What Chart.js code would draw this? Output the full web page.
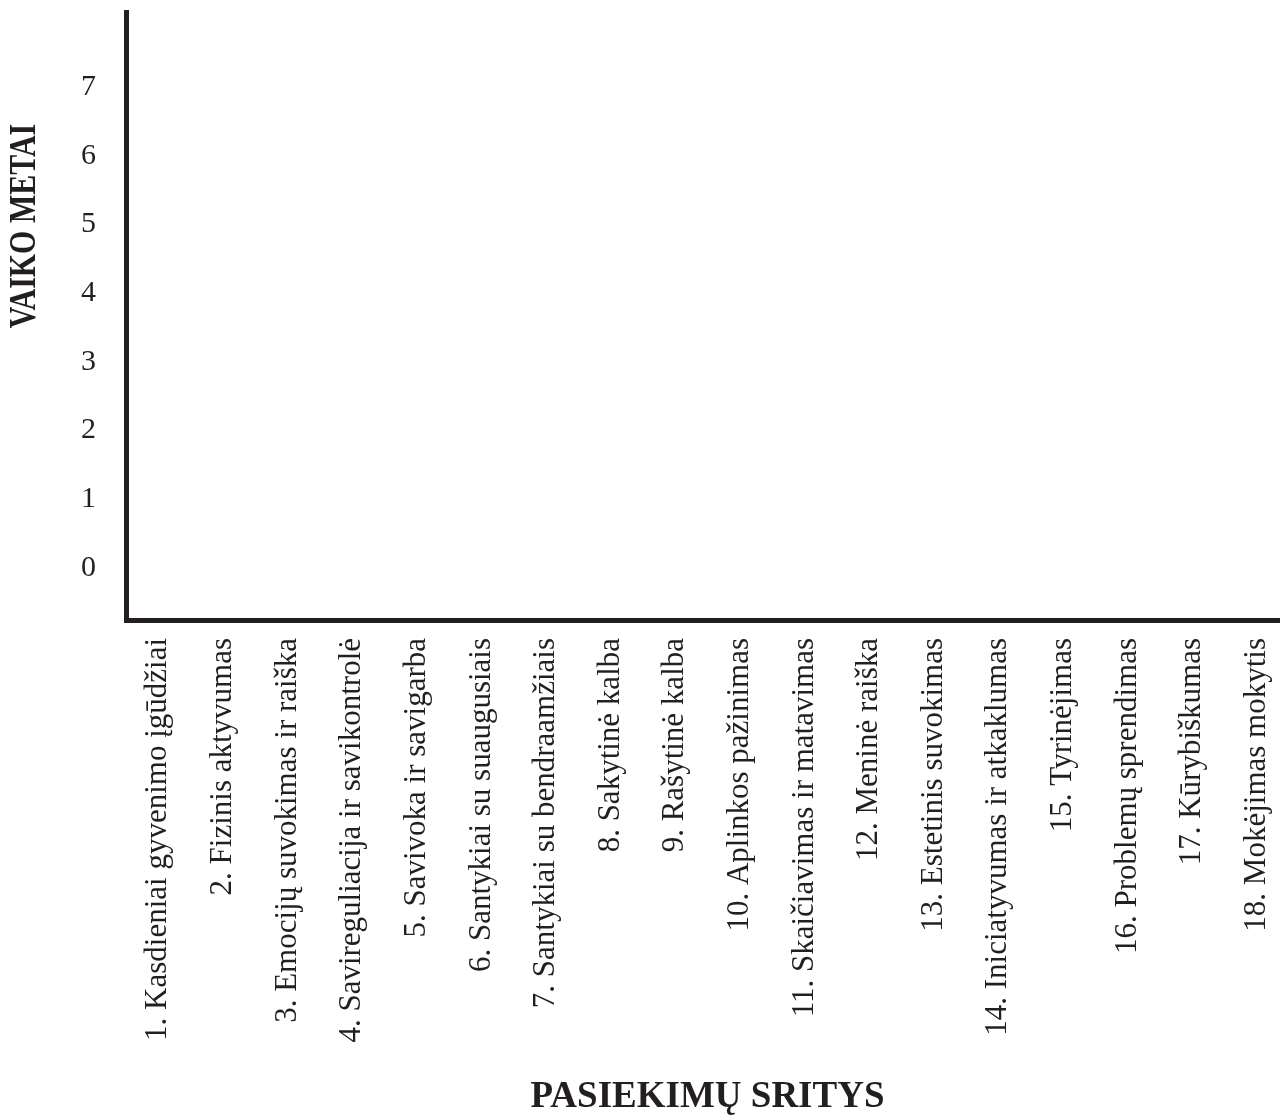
<!DOCTYPE html>
<html>
<head>
<meta charset="utf-8">
<script src="https://cdn.jsdelivr.net/npm/chart.js@4"></script>
<style>
  html, body { margin: 0; padding: 0; background: #fff; overflow: hidden; }
  #wrap { width: 1292px; height: 1120px; }
</style>
</head>
<body>
<div id="wrap"><canvas id="chart" width="1292" height="1120"></canvas></div>
<script>
// categories (pasiekimų sritys)
const categories = [
  "1. Kasdieniai gyvenimo įgūdžiai",
  "2. Fizinis aktyvumas",
  "3. Emocijų suvokimas ir raiška",
  "4. Savireguliacija ir savikontrolė",
  "5. Savivoka ir savigarba",
  "6. Santykiai su suaugusiais",
  "7. Santykiai su bendraamžiais",
  "8. Sakytinė kalba",
  "9. Rašytinė kalba",
  "10. Aplinkos pažinimas",
  "11. Skaičiavimas ir matavimas",
  "12. Meninė raiška",
  "13. Estetinis suvokimas",
  "14. Iniciatyvumas ir atkaklumas",
  "15. Tyrinėjimas",
  "16. Problemų sprendimas",
  "17. Kūrybiškumas",
  "18. Mokėjimas mokytis"
];
// y axis ticks (vaiko metai)
const yTicks = [0, 1, 2, 3, 4, 5, 6, 7];

const ink = "#231f20";
const serif = "'Liberation Serif', 'Times New Roman', serif";

// y title sits higher than the chart area centre and is a bit condensed, so draw it by hand
const yTitle = {
  id: "yTitle",
  afterDraw(chart) {
    const ctx = chart.ctx;
    ctx.save();
    ctx.translate(25, 226);
    ctx.rotate(-Math.PI / 2);
    ctx.scale(0.81, 1);
    ctx.fillStyle = ink;
    ctx.font = "bold 37px " + serif;
    ctx.textAlign = "center";
    ctx.textBaseline = "middle";
    ctx.fillText("VAIKO METAI", 0, 0);
    ctx.restore();
  }
};

new Chart(document.getElementById("chart"), {
  type: "line",
  data: { labels: categories, datasets: [] },
  plugins: [yTitle],
  options: {
    responsive: false,
    animation: false,
    layout: { autoPadding: false, padding: { top: 12, right: 3, left: 0, bottom: 0 } },
    plugins: { legend: { display: false }, tooltip: { enabled: false } },
    scales: {
      x: {
        type: "category",
        offset: true,
        grid: { display: false, drawTicks: false },
        border: { display: true, width: 5, color: ink },
        ticks: {
          autoSkip: false, maxRotation: 90, minRotation: 90,
          padding: 18, color: ink, font: { family: serif, size: 31 }
        },
        title: {
          display: true, text: "PASIEKIMŲ SRITYS", color: ink,
          font: { family: serif, size: 37, weight: "bold" },
          padding: { top: 0, bottom: 0 }
        },
        afterFit(s) { s.height = 500; s.paddingLeft = 0; s.paddingRight = 0; }
      },
      y: {
        type: "linear",
        min: -0.757,
        max: 8.09,
        afterBuildTicks(s) { s.ticks = yTicks.map(v => ({ value: v })); },
        grid: { display: false, drawTicks: false },
        border: { display: true, width: 5, color: ink },
        ticks: { padding: 30, color: ink, font: { family: serif, size: 30 } },
        afterFit(s) { s.width = 126; s.paddingTop = 0; s.paddingBottom = 0; }
      }
    }
  }
});
</script>
</body>
</html>
